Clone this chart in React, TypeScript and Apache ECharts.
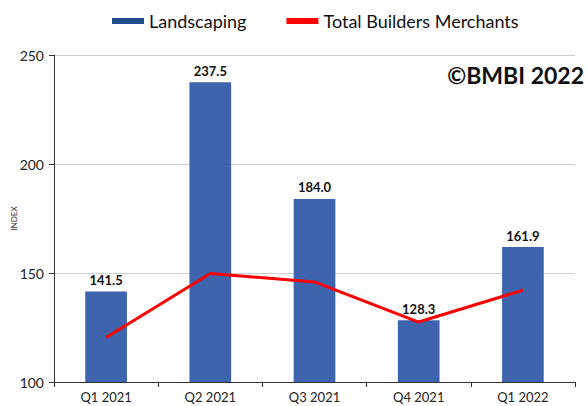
import React, { useEffect, useRef } from "react";
import * as echarts from "echarts";

const categories = ["Q1 2021", "Q2 2021", "Q3 2021", "Q4 2021", "Q1 2022"];
const landscaping = [141.5, 237.5, 184.0, 128.3, 161.9];
const totalBM = [120.4, 149.8, 145.9, 127.5, 142.1];
const yTicks = { min: 100, max: 250, interval: 50 };

export default function App() {
  const ref = useRef<HTMLDivElement>(null);
  useEffect(() => {
    const chart = echarts.init(ref.current!, null, { renderer: "svg" });
    const font = "Lato, Liberation Sans, sans-serif";
    chart.setOption({
      animation: false,
      textStyle: { fontFamily: font },
      legend: {
        top: 7,
        left: 107,
        itemWidth: 32,
        itemHeight: 6,
        itemGap: 40,
        icon: "rect",
        textStyle: { fontSize: 18, color: "#111", fontFamily: font },
        data: [
          { name: "Landscaping", itemStyle: { color: "#1F4E8C" } },
          { name: "Total Builders Merchants", itemStyle: { color: "#FF0000" } },
        ],
      },
      grid: { left: 54, right: 12, top: 55, bottom: 24, outerBoundsMode: "none", containLabel: false },
      xAxis: {
        type: "category",
        data: categories,
        axisLine: { lineStyle: { color: "#333" } },
        axisTick: { show: true, length: 5, lineStyle: { color: "#333" } },
        axisLabel: { fontSize: 13, color: "#222", margin: 8 },
      },
      yAxis: {
        type: "value",
        min: yTicks.min,
        max: yTicks.max,
        interval: yTicks.interval,
        name: "INDEX",
        nameLocation: "middle",
        nameGap: 36,
        nameMoveOverlap: false,
        nameTextStyle: { fontSize: 8, color: "#333" },
        axisLine: { show: true, lineStyle: { color: "#333" } },
        axisTick: { show: true, length: 5, lineStyle: { color: "#333" } },
        axisLabel: { fontSize: 14, color: "#222", margin: 10 },
        splitLine: { lineStyle: { color: "#d0d0d0" } },
      },
      graphic: [
        {
          type: "text",
          right: 3,
          top: 63,
          style: {
            text: "©BMBI 2022",
            font: `bold 23px ${font}`,
            fill: "#111",
          },
        },
      ],
      series: [
        {
          name: "Landscaping",
          type: "bar",
          data: landscaping,
          barWidth: "40%",
          itemStyle: { color: "#3D64AD" },
          label: {
            show: true,
            position: "top",
            formatter: (p: any) => p.value.toFixed(1),
            fontSize: 13,
            fontWeight: "bold",
            color: "#111",
            distance: 5,
          },
        },
        {
          name: "Total Builders Merchants",
          type: "line",
          data: totalBM,
          symbol: "none",
          lineStyle: { color: "#FF0000", width: 3 },
          itemStyle: { color: "#FF0000" },
        },
      ],
    });
    return () => chart.dispose();
  }, []);
  return <div ref={ref} style={{ width: 587, height: 406, position: "absolute", left: 0, top: 0 }} />;
}
